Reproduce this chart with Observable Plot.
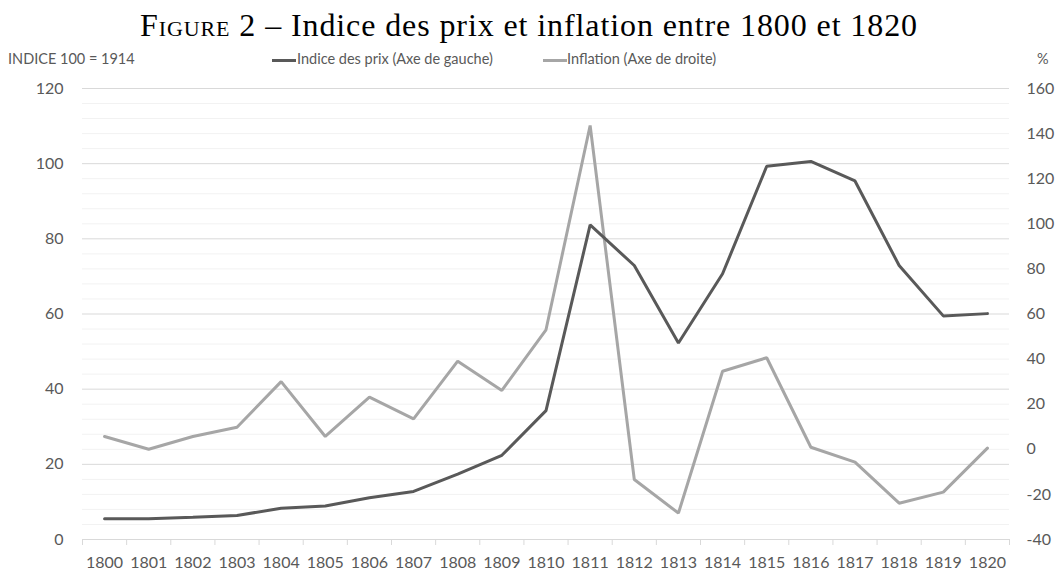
<!DOCTYPE html>
<html><head><meta charset="utf-8">
<script src="https://cdn.jsdelivr.net/npm/d3@7"></script>
<script src="https://cdn.jsdelivr.net/npm/@observablehq/plot@0.6"></script>
<style>
body{margin:0;background:#fff;}
#wrap{position:relative;width:1058px;height:571px;overflow:hidden;font-family:Lato,"Open Sans",sans-serif;color:#595959;}
#title{position:absolute;left:0;top:2px;width:1058px;text-align:center;font-family:"Liberation Serif",serif;font-size:32px;letter-spacing:0.9px;line-height:46px;color:#000;white-space:nowrap;}
.sc{font-variant:small-caps;}
.lab{position:absolute;font-size:14.5px;top:50px;line-height:18px;white-space:nowrap;}
.sw{position:absolute;top:59px;height:3px;width:24px;}
#chart{position:absolute;left:0;top:74px;}
</style></head>
<body>
<div id="wrap">
  <div id="title"><span class="sc">Figure</span> 2 – Indice des prix et inflation entre 1800 et 1820</div>
  <div class="lab" style="left:8px">INDICE 100 = 1914</div>
  <div class="sw" style="left:272px;background:#595959"></div>
  <div class="lab" style="left:297px">Indice des prix (Axe de gauche)</div>
  <div class="sw" style="left:543px;background:#a6a6a6"></div>
  <div class="lab" style="left:567px">Inflation (Axe de droite)</div>
  <div class="lab" style="left:1037px">%</div>
  <div id="chart"></div>
</div>
<script>
const years = [1800,1801,1802,1803,1804,1805,1806,1807,1808,1809,1810,1811,1812,1813,1814,1815,1816,1817,1818,1819,1820];
const prix = [5.5,5.5,5.9,6.4,8.3,8.9,11.1,12.8,17.4,22.4,34.3,83.7,72.9,52.3,70.7,99.3,100.6,95.4,72.9,59.5,60.1];
const inflation = [5.7,0,5.7,9.8,30,5.7,23.1,13.5,39.1,26.1,53,143.6,-13.4,-28.3,34.6,40.6,0.9,-5.7,-23.9,-19,0.5];
const leftTicks = [0,20,40,60,80,100,120];
const rightTicks = [-40,-20,0,20,40,60,80,100,120,140,160];
const minorGrid = [4,8,12,16,24,28,32,36,44,48,52,56,64,68,72,76,84,88,92,96,104,108,112,116];
const majorGrid = [20,40,60,80,100,120];

const toLeft = r => (r + 40) * 120 / 200;
const fromLeft = v => Math.round(v * 200 / 120 - 40);
const data = years.map((y, i) => ({year: y, prix: prix[i], infl: toLeft(inflation[i])}));
const bounds = years.map(y => y - 0.5).concat([years[years.length - 1] + 0.5]);

const chart = Plot.plot({
  width: 1058, height: 497,
  marginTop: 14, marginBottom: 32, marginLeft: 82, marginRight: 49,
  x: {type: "linear", domain: [years[0] - 0.5, years[years.length - 1] + 0.5], label: null},
  y: {domain: [0, 120], label: null},
  style: {fontFamily: "Lato, sans-serif", fontSize: "16px", color: "#595959", background: "#fff"},
  marks: [
    Plot.gridY(minorGrid, {stroke: "#f2f2f2", strokeOpacity: 1, strokeWidth: 1}),
    Plot.gridY(majorGrid, {stroke: "#d9d9d9", strokeOpacity: 1, strokeWidth: 1}),
    Plot.ruleY([0], {stroke: "#d9d9d9", strokeWidth: 1}),
    Plot.axisX(bounds, {tickSize: 6, tickFormat: () => "", stroke: "#d9d9d9", label: null}),
    Plot.axisX(years, {tickSize: 0, tickPadding: 17, tickFormat: d => String(d), fill: "#595959", label: null}),
    Plot.axisY(leftTicks, {anchor: "left", tickSize: 0, tickPadding: 19, fill: "#595959", label: null}),
    Plot.axisY(rightTicks.map(toLeft), {anchor: "right", tickSize: 0, tickPadding: 17, tickFormat: fromLeft, fill: "#595959", label: null}),
    Plot.line(data, {x: "year", y: "infl", stroke: "#a6a6a6", strokeWidth: 3, strokeLinejoin: "miter"}),
    Plot.line(data, {x: "year", y: "prix", stroke: "#595959", strokeWidth: 3, strokeLinejoin: "miter"})
  ]
});
document.getElementById("chart").appendChild(chart);
</script>
</body></html>
